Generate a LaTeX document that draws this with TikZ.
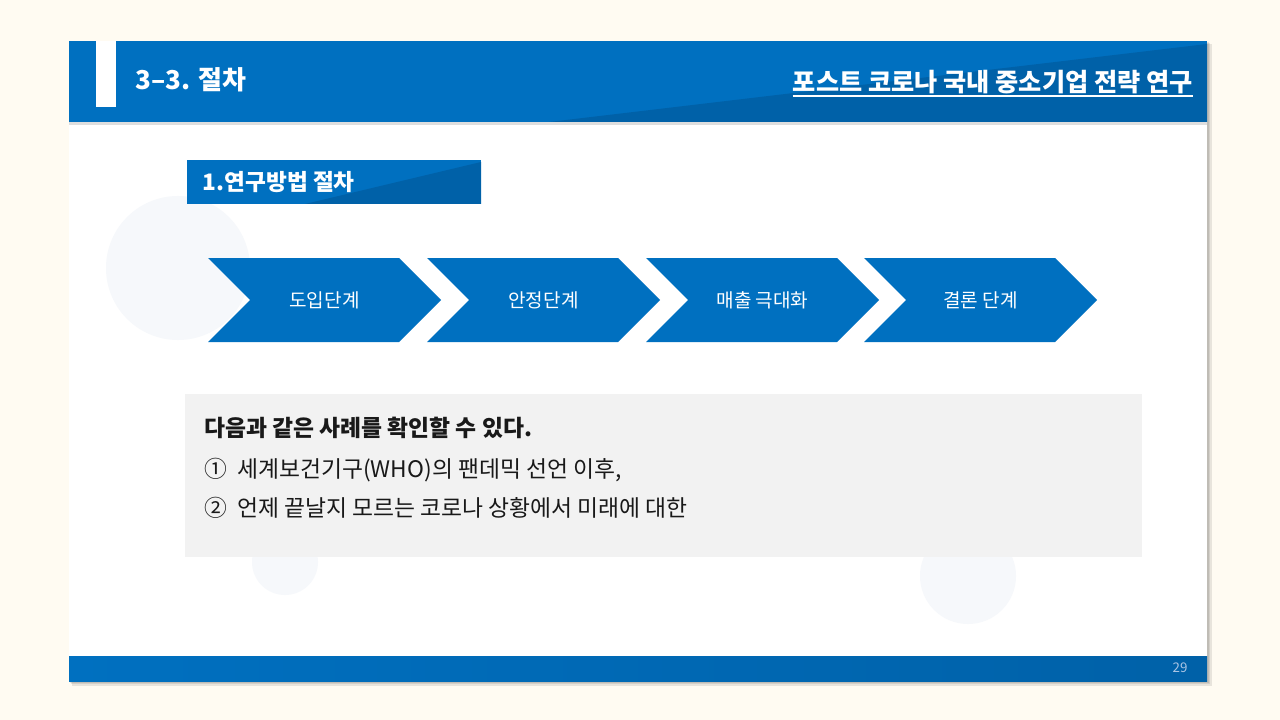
\documentclass[tikz,border=0pt]{standalone}
\usepackage{fontspec}
\setmainfont{Noto Sans CJK KR}
\usetikzlibrary{shapes.symbols, positioning, calc}
\definecolor{cream}{RGB}{255, 251, 242}
\definecolor{primary}{RGB}{0, 112, 192}
\definecolor{deep}{RGB}{0, 97, 168}
\definecolor{panel}{RGB}{242, 242, 242}
\definecolor{ghost}{RGB}{246, 248, 251}
\definecolor{pagenum}{RGB}{170, 196, 228}
\definecolor{ink}{RGB}{25, 25, 25}
\tikzset{
    stage/.style={signal, signal from=west, signal to=east, signal pointer angle=90, fill=primary, text=white,
        minimum width=174.75pt, minimum height=63pt, inner sep=0pt, font=\fontsize{14.3}{16}\selectfont},
    line/.style={anchor=west, text=ink, inner sep=0pt, font=\fontsize{17.1}{19}\selectfont},
    blob/.style={fill=ghost},
    castshadow/.style={fill=black, opacity=0.09}
}

\begin{document}
\begin{tikzpicture}[x=0.75pt, y=-0.75pt]
                \fill[cream] (0,0) rectangle (1280,720);
                \useasboundingbox (0,0) rectangle (1280,720);
                % slide and its bars
                \fill[castshadow] (72,44) rectangle (1212,686);
                \fill[castshadow] (71,43) rectangle (1210,684);
                \fill[castshadow] (70,42) rectangle (1209,683);
                \fill[white] (69,41) rectangle (1207,681);
                \fill[black!25, opacity=0.5] (69,122) rectangle (1207,125);
                \fill[primary] (69,41) rectangle (1207,122);
                \fill[deep] (549,122) -- (1207,44) -- (1207,122) -- cycle;
                \fill[white] (96,41) rectangle (116,107);
                \shade[left color=primary, right color=deep] (69,656) rectangle (1207,681);
                \node[anchor=west, text=white, font=\fontsize{19.5}{22}\selectfont\bfseries] (head) at (131,80) {3–3. 절차};
                \node[anchor=east, text=white, font=\fontsize{18.9}{22}\selectfont\bfseries, inner sep=0pt] (topic) at (1193,82) {포스트 코로나 국내 중소기업 전략 연구};
                \draw[white, line width=1.3pt] ($(topic.south west)+(0,-1.5pt)$) -- ($(topic.south east)+(0,-1.5pt)$);
                \node[text=pagenum, font=\fontsize{10}{12}\selectfont] (page) at (1180,668) {29};
                % faint circles
                \fill[blob] (178,268) circle[radius=72];
                \fill[blob] (285,562) circle[radius=33];
                \fill[blob] (968,576) circle[radius=48];
                % section label
                \fill[primary] (187,160) rectangle (481,204);
                \fill[deep] (305,204) -- (481,162) -- (481,204) -- cycle;
                \node[anchor=west, text=white, font=\fontsize{17}{19}\selectfont\bfseries] (sec) at (198,182) {1.연구방법 절차};
                % stages
                \node[stage] (s1) at (324.5,300) {도입단계};
                \node[stage] (s2) at (543.5,300) {안정단계};
                \node[stage] (s3) at (762.5,300) {매출 극대화};
                \node[stage] (s4) at (980.5,300) {결론 단계};
                % case panel
                \fill[panel] (185,394) rectangle (1142,557);
                \node[line, font=\fontsize{17.1}{19}\selectfont\bfseries] (t0) at (204,428) {다음과 같은 사례를 확인할 수 있다.};
                \node[line] (t1) at (204,470) {①\ \ 세계보건기구(WHO)의 팬데믹 선언 이후,};
                \node[line] (t2) at (204,508) {②\ \ 언제 끝날지 모르는 코로나 상황에서 미래에 대한};
            \end{tikzpicture}
\end{document}
